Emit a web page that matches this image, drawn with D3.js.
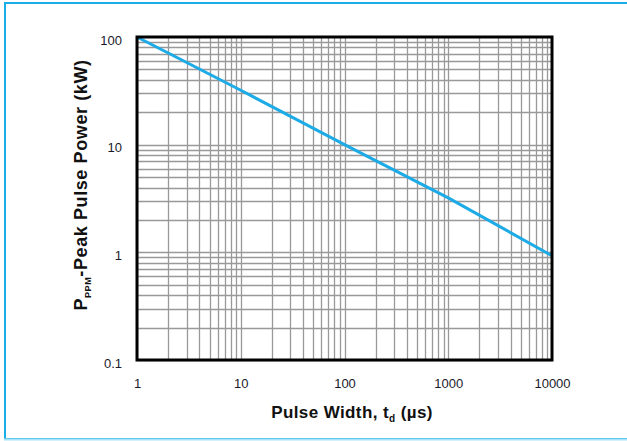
<!DOCTYPE html>
<html>
<head>
<meta charset="utf-8">
<script src="https://cdn.jsdelivr.net/npm/d3@7"></script>
<style>
  body { margin: 0; background: #fff; }
  svg { display: block; font-family: "Liberation Sans", Arial, sans-serif; }
</style>
</head>
<body>
<div id="chart"></div>
<script>
// pulse width (µs) vs peak pulse power (kW)
const pulseWidth = [1, 10, 100, 1000, 10000];
const peakPower = [100, 32, 10, 3.2, 0.93];

const xTicks = [1, 10, 100, 1000, 10000];
const yTicks = [0.1, 1, 10, 100];

const width = 627, height = 441;
const plot = { left: 137, right: 552, top: 37, bottom: 360 };

const svg = d3.select("#chart").append("svg")
  .attr("width", width)
  .attr("height", height);

// outer frame
svg.append("rect")
  .attr("x", 5).attr("y", 3)
  .attr("width", 640).attr("height", 436)
  .attr("fill", "none")
  .attr("stroke", "#1aaee8")
  .attr("stroke-width", 2);
svg.append("line")
  .attr("x1", 4).attr("x2", 627)
  .attr("y1", 439.5).attr("y2", 439.5)
  .attr("stroke", "#a8e4f8")
  .attr("stroke-width", 2);

const x = d3.scaleLog().domain([1, 10000]).range([plot.left, plot.right]);
const y = d3.scaleLog().domain([0.1, 100]).range([plot.bottom, plot.top]);

// minor + major grid
const xGrid = [];
for (let e = 0; e < 4; e++) for (let m = 1; m < 10; m++) xGrid.push(m * Math.pow(10, e));
const yGrid = [];
for (let e = -1; e < 2; e++) for (let m = 1; m < 10; m++) yGrid.push(+(m * Math.pow(10, e)).toPrecision(3));

const grid = svg.append("g").attr("stroke", "#999").attr("stroke-width", 1.3);
grid.selectAll("line.v").data(xGrid).join("line")
  .attr("class", "v")
  .attr("x1", d => Math.round(x(d)) + 0.5).attr("x2", d => Math.round(x(d)) + 0.5)
  .attr("y1", plot.top).attr("y2", plot.bottom);
grid.selectAll("line.h").data(yGrid).join("line")
  .attr("class", "h")
  .attr("y1", d => Math.round(y(d)) + 0.5).attr("y2", d => Math.round(y(d)) + 0.5)
  .attr("x1", plot.left).attr("x2", plot.right);

// curve
const line = d3.line()
  .x((d, i) => x(pulseWidth[i]))
  .y(d => y(d));
svg.append("path")
  .datum(peakPower)
  .attr("fill", "none")
  .attr("stroke", "#1cabe6")
  .attr("stroke-width", 3)
  .attr("d", line);

// plot border
svg.append("rect")
  .attr("x", plot.left).attr("y", plot.top)
  .attr("width", plot.right - plot.left)
  .attr("height", plot.bottom - plot.top)
  .attr("fill", "none")
  .attr("stroke", "#000")
  .attr("stroke-width", 3);

// axes (labels only)
const xAxis = svg.append("g")
  .attr("transform", `translate(0,${plot.bottom + 16})`)
  .call(d3.axisBottom(x).tickValues(xTicks).tickFormat(d3.format("d")).tickSize(0));
xAxis.select(".domain").remove();
xAxis.selectAll("text").attr("font-size", 13).attr("fill", "#1a1a2a").attr("dy", "0.71em")
  .attr("font-family", "Liberation Sans, Arial, sans-serif");

const yAxis = svg.append("g")
  .attr("transform", `translate(${plot.left - 12},3)`)
  .call(d3.axisLeft(y).tickValues(yTicks).tickFormat(d => d < 1 ? "0.1" : d3.format("d")(d)).tickSize(0));
yAxis.select(".domain").remove();
yAxis.selectAll("text").attr("font-size", 13).attr("fill", "#1a1a2a")
  .attr("font-family", "Liberation Sans, Arial, sans-serif");

// axis titles
const xt = svg.append("text")
  .attr("x", 352).attr("y", 418)
  .attr("text-anchor", "middle")
  .attr("letter-spacing", 0.4)
  .attr("font-size", 17).attr("font-weight", "bold").attr("fill", "#111");
xt.append("tspan").text("Pulse Width, t");
xt.append("tspan").attr("font-size", 10).attr("dy", 4).text("d");
xt.append("tspan").attr("dy", -4).text(" (µs)");

const yt = svg.append("text")
  .attr("transform", "translate(87,185) rotate(-90)")
  .attr("text-anchor", "middle")
  .attr("letter-spacing", 0.6)
  .attr("font-size", 18).attr("font-weight", "bold").attr("fill", "#111");
yt.append("tspan").text("P");
yt.append("tspan").attr("font-size", 9).attr("dy", 4).text("PPM");
yt.append("tspan").attr("dy", -4).text("-Peak Pulse Power (kW)");
</script>
</body>
</html>
